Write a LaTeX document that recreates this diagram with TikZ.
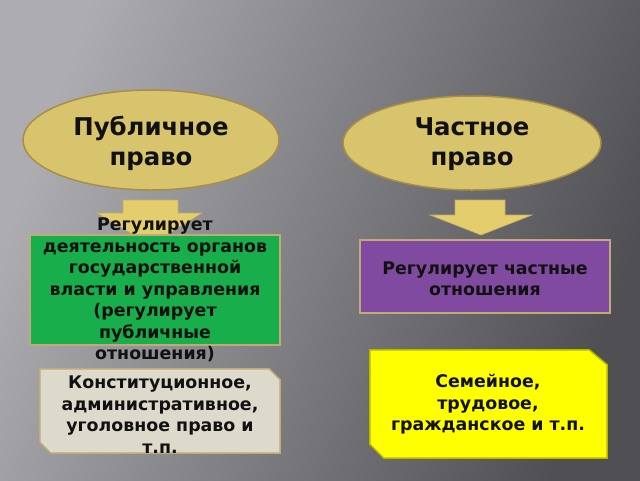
\documentclass[tikz,border=0pt]{standalone}
\usepackage{fontspec}
\setmainfont{DejaVu Sans}
\usetikzlibrary{shapes.geometric}
\definecolor{bgdark}{HTML}{505054}
\definecolor{bglight}{HTML}{ADADB1}
\definecolor{ellfill}{HTML}{D8C46C}
\definecolor{ellline}{HTML}{A88F45}
\definecolor{arrfill}{HTML}{E4CD6C}
\definecolor{grn}{HTML}{17AE4B}
\definecolor{prp}{HTML}{7F4A9F}
\definecolor{gry}{HTML}{DEDACB}
\definecolor{ylw}{HTML}{FFFF00}
\definecolor{tanline}{HTML}{BFAA78}
\definecolor{txtc}{HTML}{111111}
\begin{document}
\begin{tikzpicture}[x=1pt,y=-1pt,
  ellip/.style={ellipse,draw=ellline,line width=1.5pt,fill=ellfill,inner sep=0pt},
  elltxt/.style={align=center,inner sep=0pt,text=txtc,font=\bfseries\fontsize{24.4}{30}\selectfont},
  plainbox/.style={rectangle,draw=tanline,line width=1.5pt,inner sep=0pt},
  ghost/.style={rectangle,inner sep=0pt},
  snip/.style={line width=1.5pt,line join=miter},
  txt/.style={align=center,inner sep=0pt,text=txtc,font=\bfseries\fontsize{17.4}{21.5}\selectfont},
  arr/.style={fill=arrfill,draw=arrfill!85!black,line width=0.6pt}]
\useasboundingbox (0,0) rectangle (640,480);
\shade[left color=bglight,right color=bgdark,shading angle=70] (0,0) rectangle (640,480);
% ellipses
\node[ellip,minimum width=256pt,minimum height=100pt] (pub) at (151,140) {};
\node[elltxt] (pubt) at (151,143) {Публичное\\право};
\node[ellip,minimum width=258pt,minimum height=94pt] (priv) at (472,143) {};
\node[elltxt] (privt) at (472,144) {Частное\\право};
% arrows
\draw[arr] (123,200) -- (178,200) -- (178,213) -- (202,213) -- (150.5,245) -- (97,213) -- (123,213) -- cycle;
\draw[arr] (455,200) -- (505,200) -- (505,215) -- (532,215) -- (481,235) -- (430,215) -- (455,215) -- cycle;
% green and purple boxes
\node[plainbox,fill=grn,minimum width=250pt,minimum height=110pt] (gbox) at (155,290) {};
\node[txt] (gtext) at (155,290) {Регулирует\\деятельность органов\\государственной\\власти и управления\\(регулирует\\публичные\\отношения)};
\node[plainbox,fill=prp,minimum width=250pt,minimum height=73pt] (pbox) at (485,276.5) {};
\node[txt] (ptext) at (485,279) {Регулирует частные\\отношения};
% snipped boxes
\node[ghost,minimum width=240pt,minimum height=84pt] (cbox) at (160,411) {};
\filldraw[snip,fill=gry,draw=tanline] (cbox.north west) -- ([xshift=-11pt]cbox.north east) -- ([yshift=-11pt]cbox.north east) -- (cbox.south east) -- ([xshift=11pt]cbox.south west) -- ([yshift=11pt]cbox.south west) -- cycle;
\node[txt] (ctext) at (160,414.5) {Конституционное,\\административное,\\уголовное право и\\т.п.};
\node[ghost,minimum width=237pt,minimum height=108pt] (ybox) at (488.5,404) {};
\filldraw[snip,fill=ylw,draw=ylw!72!black] (ybox.north west) -- ([xshift=-18pt]ybox.north east) -- ([yshift=-15pt]ybox.north east) -- (ybox.south east) -- ([xshift=14pt]ybox.south west) -- ([yshift=14pt]ybox.south west) -- cycle;
\node[txt] (ytext) at (488,404.5) {Семейное,\\трудовое,\\гражданское и т.п.};
\end{tikzpicture}
\end{document}
